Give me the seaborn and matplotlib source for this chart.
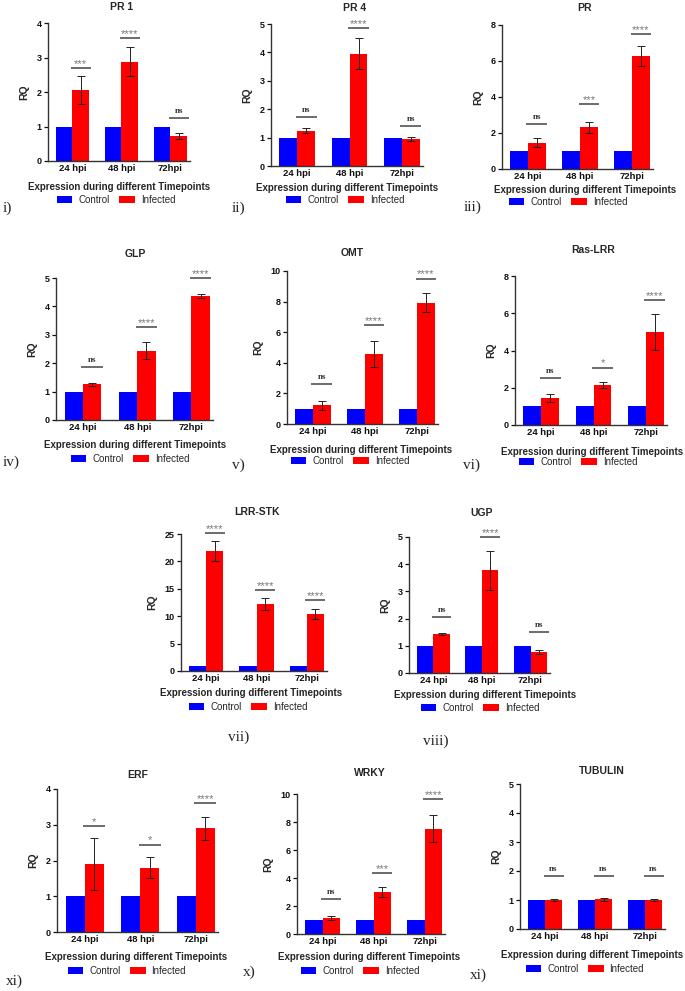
import matplotlib
matplotlib.use("Agg")
import matplotlib.pyplot as plt
import seaborn as sns
import pandas as pd
from matplotlib.patches import Patch

W, H = 685, 991

# ---------------- data ----------------
TIMEPOINTS = ["24 hpi", "48 hpi", "72hpi"]
CONDITIONS = ["Control", "Infected"]
CONTROL = [1.0, 1.0, 1.0]

PR1_INF = [2.05, 2.87, 0.72]
PR1_ERR = [0.40, 0.42, 0.08]
PR1_SIG = ["***", "****", "ns"]
PR1_SIG_Y = [2.69, 3.56, 1.25]

PR4_INF = [1.25, 3.95, 0.95]
PR4_ERR = [0.10, 0.55, 0.08]
PR4_SIG = ["ns", "****", "ns"]
PR4_SIG_Y = [1.73, 4.86, 1.41]

PR_INF = [1.45, 2.32, 6.30]
PR_ERR = [0.25, 0.30, 0.55]
PR_SIG = ["ns", "***", "****"]
PR_SIG_Y = [2.48, 3.61, 7.48]

GLP_INF = [1.25, 2.44, 4.38]
GLP_ERR = [0.04, 0.30, 0.07]
GLP_SIG = ["ns", "****", "****"]
GLP_SIG_Y = [1.86, 3.27, 5.0]

OMT_INF = [1.22, 4.60, 7.92]
OMT_ERR = [0.28, 0.85, 0.62]
OMT_SIG = ["ns", "****", "****"]
OMT_SIG_Y = [2.63, 6.46, 9.50]

RAS_INF = [1.45, 2.15, 5.00]
RAS_ERR = [0.22, 0.17, 0.95]
RAS_SIG = ["ns", "*", "****"]
RAS_SIG_Y = [2.55, 3.07, 6.71]

STK_INF = [21.9, 12.3, 10.4]
STK_ERR = [1.8, 1.1, 0.9]
STK_SIG = ["****", "****", "****"]
STK_SIG_Y = [25.1, 14.75, 12.9]

UGP_INF = [1.42, 3.77, 0.77]
UGP_ERR = [0.04, 0.73, 0.08]
UGP_SIG = ["ns", "****", "ns"]
UGP_SIG_Y = [2.06, 5.0, 1.51]

ERF_INF = [1.90, 1.80, 2.90]
ERF_ERR = [0.72, 0.30, 0.33]
ERF_SIG = ["*", "*", "****"]
ERF_SIG_Y = [2.96, 2.44, 3.61]

WRKY_INF = [1.15, 2.98, 7.52]
WRKY_ERR = [0.12, 0.35, 0.98]
WRKY_SIG = ["ns", "***", "****"]
WRKY_SIG_Y = [2.49, 4.35, 9.64]

TUB_INF = [1.00, 1.02, 1.00]
TUB_ERR = [0.04, 0.05, 0.04]
TUB_SIG = ["ns", "ns", "ns"]
TUB_SIG_Y = [1.84, 1.84, 1.84]

PALETTE = {"Control": "#0000FF", "Infected": "#FF0000"}

# ---------------- layout (pixels) ----------------
PANELS = [
    dict(title="PR 1", inf=PR1_INF, err=PR1_ERR, sig=PR1_SIG, sigy=PR1_SIG_Y, ymax=4, step=1,
         box=(48, 23, 190, 161), tpos=(122, 7), xl=(119, 187), lg=(116, 200), rn=("i)", 3, 208)),
    dict(title="PR 4", inf=PR4_INF, err=PR4_ERR, sig=PR4_SIG, sigy=PR4_SIG_Y, ymax=5, step=1,
         box=(271, 24, 423, 166), tpos=(355, 8), xl=(347, 188), lg=(345, 200), rn=("ii)", 232, 208)),
    dict(title="PR", inf=PR_INF, err=PR_ERR, sig=PR_SIG, sigy=PR_SIG_Y, ymax=8, step=2,
         box=(502, 25, 653, 169), tpos=(584, 8), xl=(585, 190), lg=(568, 202), rn=("iii)", 464, 207)),
    dict(title="GLP", inf=GLP_INF, err=GLP_ERR, sig=GLP_SIG, sigy=GLP_SIG_Y, ymax=5, step=1,
         box=(56, 278, 213, 420), tpos=(135, 254), xl=(135, 445), lg=(130, 459), rn=("iv)", 3, 462)),
    dict(title="OMT", inf=OMT_INF, err=OMT_ERR, sig=OMT_SIG, sigy=OMT_SIG_Y, ymax=10, step=2,
         box=(287, 271, 438, 424), tpos=(352, 253), xl=(361, 450), lg=(350, 461), rn=("v)", 232, 465)),
    dict(title="Ras-LRR", inf=RAS_INF, err=RAS_ERR, sig=RAS_SIG, sigy=RAS_SIG_Y, ymax=8, step=2,
         box=(515, 276, 667, 425), tpos=(593, 250), xl=(592, 452), lg=(578, 462), rn=("vi)", 463, 465)),
    dict(title="LRR-STK", inf=STK_INF, err=STK_ERR, sig=STK_SIG, sigy=STK_SIG_Y, ymax=25, step=5,
         box=(181, 534, 327, 671), tpos=(257, 512), xl=(251, 693), lg=(248, 707), rn=("vii)", 228, 737)),
    dict(title="UGP", inf=UGP_INF, err=UGP_ERR, sig=UGP_SIG, sigy=UGP_SIG_Y, ymax=5, step=1,
         box=(409, 537, 550, 673), tpos=(482, 513), xl=(485, 695), lg=(480, 708), rn=("viii)", 423, 741)),
    dict(title="ERF", inf=ERF_INF, err=ERF_ERR, sig=ERF_SIG, sigy=ERF_SIG_Y, ymax=4, step=1,
         box=(57, 789, 218, 932), tpos=(138, 775), xl=(136, 957), lg=(127, 971), rn=("xi)", 6, 981)),
    dict(title="WRKY", inf=WRKY_INF, err=WRKY_ERR, sig=WRKY_SIG, sigy=WRKY_SIG_Y, ymax=10, step=2,
         box=(297, 794, 445, 934), tpos=(370, 773), xl=(369, 957), lg=(360, 971), rn=("x)", 243, 972)),
    dict(title="TUBULIN", inf=TUB_INF, err=TUB_ERR, sig=TUB_SIG, sigy=TUB_SIG_Y, ymax=5, step=1,
         box=(520, 784, 665, 929), tpos=(602, 771), xl=(592, 955), lg=(585, 969), rn=("xi)", 470, 975)),
]

sns.set_theme(style="ticks")
plt.rcParams["font.family"] = ["Liberation Sans", "DejaVu Sans"]

fig = plt.figure(figsize=(W / 100, H / 100), dpi=100)
fig.patch.set_facecolor("white")


def fx(px):
    return px / W


def fy(py):
    return 1 - py / H


for p in PANELS:
    l, t, r, b = p["box"]
    ax = fig.add_axes([fx(l), fy(b), (r - l) / W, (b - t) / H])
    df = pd.DataFrame({
        "Timepoint": TIMEPOINTS * 2,
        "Condition": ["Control"] * 3 + ["Infected"] * 3,
        "RQ": CONTROL + p["inf"],
    })
    sns.barplot(data=df, x="Timepoint", y="RQ", hue="Condition", order=TIMEPOINTS,
                hue_order=CONDITIONS, palette=PALETTE, width=0.68, errorbar=None,
                saturation=1, legend=False, ax=ax, linewidth=0)
    ymax = p["ymax"]
    # error bars & significance on the Infected bars
    inf_bars = ax.containers[1]
    for rect, e, s, sy in zip(inf_bars, p["err"], p["sig"], p["sigy"]):
        xc = rect.get_x() + rect.get_width() / 2
        yv = rect.get_height()
        ax.errorbar([xc], [yv], yerr=[e], fmt="none", ecolor="#222222",
                    elinewidth=0.7, capsize=3, capthick=0.7, zorder=5)
        ax.plot([xc - 0.2, xc + 0.2], [sy, sy], color="#444444", lw=1.1,
                clip_on=False, solid_capstyle="butt")
        if s == "ns":
            ax.text(xc, sy + 0.02 * ymax, s, ha="center", va="bottom", fontsize=6.5,
                    color="#333333", family=["Liberation Serif", "DejaVu Serif"],
                    fontweight="bold", clip_on=False)
        else:
            ax.text(xc, sy - 0.005 * ymax, s, ha="center", va="bottom", fontsize=8,
                    color="#777777", clip_on=False)

    ax.set_ylim(0, ymax)
    ax.set_xlim(-0.5, 2.4)
    ax.set_yticks(list(range(0, ymax + 1, p["step"])))
    sns.despine(ax=ax)
    for sp in ("left", "bottom"):
        ax.spines[sp].set_color("#333333")
        ax.spines[sp].set_linewidth(1.0)
    ax.tick_params(axis="x", length=0, labelsize=6.8, pad=2, colors="#111111")
    ax.tick_params(axis="y", length=3, width=0.9, labelsize=6.5, pad=1.5, colors="#111111")
    for lbl in ax.get_xticklabels() + ax.get_yticklabels():
        lbl.set_fontweight("bold")
    ax.set_xlabel("")
    ax.set_ylabel("RQ", fontsize=7.5, fontweight="bold", labelpad=5)

    fig.text(fx(p["tpos"][0]), fy(p["tpos"][1]), p["title"], ha="center", va="center",
             fontsize=7.5, fontweight="bold")
    fig.text(fx(p["xl"][0]), fy(p["xl"][1]), "Expression during different Timepoints",
             ha="center", va="center", fontsize=7, fontweight="bold")
    handles = [Patch(facecolor=PALETTE[c], edgecolor="none", label=c) for c in CONDITIONS]
    ax.legend(handles=handles, loc="center", bbox_to_anchor=(fx(p["lg"][0]), fy(p["lg"][1])),
              bbox_transform=fig.transFigure, ncol=2, frameon=False, fontsize=7,
              handlelength=1.6, handleheight=0.7, columnspacing=1.0, handletextpad=0.6,
              borderpad=0, borderaxespad=0)
    rn, rx, ry = p["rn"]
    fig.text(fx(rx), fy(ry), rn, ha="left", va="center", fontsize=11,
             family=["Liberation Serif", "DejaVu Serif"])

fig.savefig("out.png", dpi=100, facecolor="white")
